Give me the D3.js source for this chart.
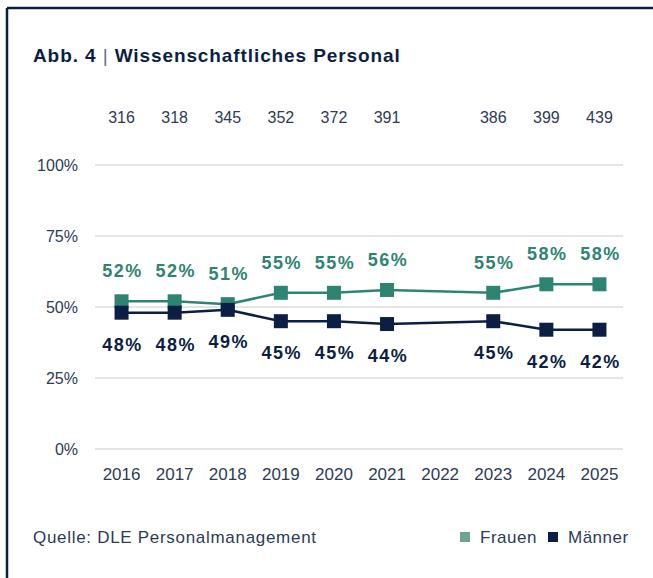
<!DOCTYPE html>
<html lang="de">
<head>
<meta charset="UTF-8"/>
<title>Wissenschaftliches Personal</title>
<script src="https://d3js.org/d3.v7.min.js"></script>
<style>
  body { margin: 0; background: #fff; }
  svg text { font-family: "Liberation Sans", Arial, sans-serif; }
</style>
</head>
<body>
<script>
    // chart data
    var years = ["2016", "2017", "2018", "2019", "2020", "2021", "2022", "2023", "2024", "2025"];
    var totals = [316, 318, 345, 352, 372, 391, null, 386, 399, 439];
    var frauen = [52, 52, 51, 55, 55, 56, null, 55, 58, 58];
    var maenner = [48, 48, 49, 45, 45, 44, null, 45, 42, 42];
    var yTicks = [0, 25, 50, 75, 100];

    var w = 653, h = 578;
    var navy = "#0b1f45";
    var green = "#2e8473";
    var textCol = "#2d3b57";

    var svg = d3.select("body").append("svg")
        .attr("width", w)
        .attr("height", h);

    // frame (top + left edge)
    svg.append("line").attr("x1", 7).attr("y1", 8).attr("x2", w).attr("y2", 8)
        .attr("stroke", navy).attr("stroke-width", 2.5);
    svg.append("line").attr("x1", 7).attr("y1", 8).attr("x2", 7).attr("y2", h)
        .attr("stroke", navy).attr("stroke-width", 2.5);

    // title
    var title = svg.append("text")
        .attr("x", 33).attr("y", 62)
        .attr("font-size", "19px")
        .attr("font-weight", "bold")
        .attr("letter-spacing", "0.9px")
        .attr("fill", navy);
    title.append("tspan").text("Abb. 4 ");
    title.append("tspan").attr("font-weight", "normal").attr("fill", "#5f6b85").text(" | ");
    title.append("tspan").text("Wissenschaftliches Personal");

    // scales
    var xScale = d3.scaleBand()
        .domain(years)
        .range([95, 626]);

    var yScale = d3.scaleLinear()
        .domain([0, 100])
        .range([449, 165]);

    var cx = function(i) { return xScale(years[i]) + xScale.bandwidth() / 2; };

    // grid
    svg.selectAll("line.grid")
        .data(yTicks)
        .enter()
        .append("line")
        .attr("class", "grid")
        .attr("x1", 95).attr("x2", 623)
        .attr("y1", function(d) { return yScale(d); })
        .attr("y2", function(d) { return yScale(d); })
        .attr("stroke", "#e3e5e8")
        .attr("stroke-width", 2);

    // y labels
    svg.selectAll("text.ytick")
        .data(yTicks)
        .enter()
        .append("text")
        .attr("class", "ytick")
        .attr("x", 78)
        .attr("y", function(d) { return yScale(d) + 6; })
        .attr("text-anchor", "end")
        .attr("font-size", "16px")
        .attr("fill", textCol)
        .text(function(d) { return d + "%"; });

    // x labels
    svg.selectAll("text.xtick")
        .data(years)
        .enter()
        .append("text")
        .attr("class", "xtick")
        .attr("x", function(d, i) { return cx(i); })
        .attr("y", 480)
        .attr("text-anchor", "middle")
        .attr("font-size", "17px")
        .attr("fill", textCol)
        .text(function(d) { return d; });

    // totals on top
    svg.selectAll("text.total")
        .data(totals)
        .enter()
        .append("text")
        .attr("class", "total")
        .attr("x", function(d, i) { return cx(i); })
        .attr("y", 123)
        .attr("text-anchor", "middle")
        .attr("font-size", "16px")
        .attr("fill", textCol)
        .text(function(d) { return d == null ? "" : d; });

    // lines + markers for both series
    function drawSeries(values, color, labelOffset) {
        var pts = [];
        values.forEach(function(v, i) { if (v != null) pts.push([i, v]); });

        var line = d3.line()
            .x(function(d) { return cx(d[0]); })
            .y(function(d) { return yScale(d[1]); });

        svg.append("path")
            .datum(pts)
            .attr("d", line)
            .attr("fill", "none")
            .attr("stroke", color)
            .attr("stroke-width", 2.5);

        var g = svg.append("g");
        g.selectAll("rect")
            .data(pts)
            .enter()
            .append("rect")
            .attr("x", function(d) { return cx(d[0]) - 7; })
            .attr("y", function(d) { return yScale(d[1]) - 7; })
            .attr("width", 14)
            .attr("height", 14)
            .attr("fill", color);

        g.selectAll("text")
            .data(pts)
            .enter()
            .append("text")
            .attr("x", function(d) { return cx(d[0]) + 1; })
            .attr("y", function(d) { return yScale(d[1]) + labelOffset; })
            .attr("text-anchor", "middle")
            .attr("font-size", "18px")
            .attr("font-weight", "bold")
            .attr("letter-spacing", "1.5px")
            .attr("fill", color)
            .text(function(d) { return d[1] + "%"; });
    }

    drawSeries(frauen, green, -24);
    drawSeries(maenner, navy, 38);

    // source
    svg.append("text")
        .attr("x", 33).attr("y", 543)
        .attr("font-size", "17px")
        .attr("letter-spacing", "0.7px")
        .attr("fill", textCol)
        .text("Quelle: DLE Personalmanagement");

    // legend
    var legend = [["Frauen", "#6fa58e", 460], ["Männer", navy, 548]];
    legend.forEach(function(l) {
        svg.append("rect")
            .attr("x", l[2]).attr("y", 532)
            .attr("width", 10).attr("height", 10)
            .attr("fill", l[1]);
        svg.append("text")
            .attr("x", l[2] + 20).attr("y", 543)
            .attr("font-size", "17px")
            .attr("letter-spacing", "0.5px")
            .attr("fill", textCol)
            .text(l[0]);
    });
</script>
</body>
</html>
